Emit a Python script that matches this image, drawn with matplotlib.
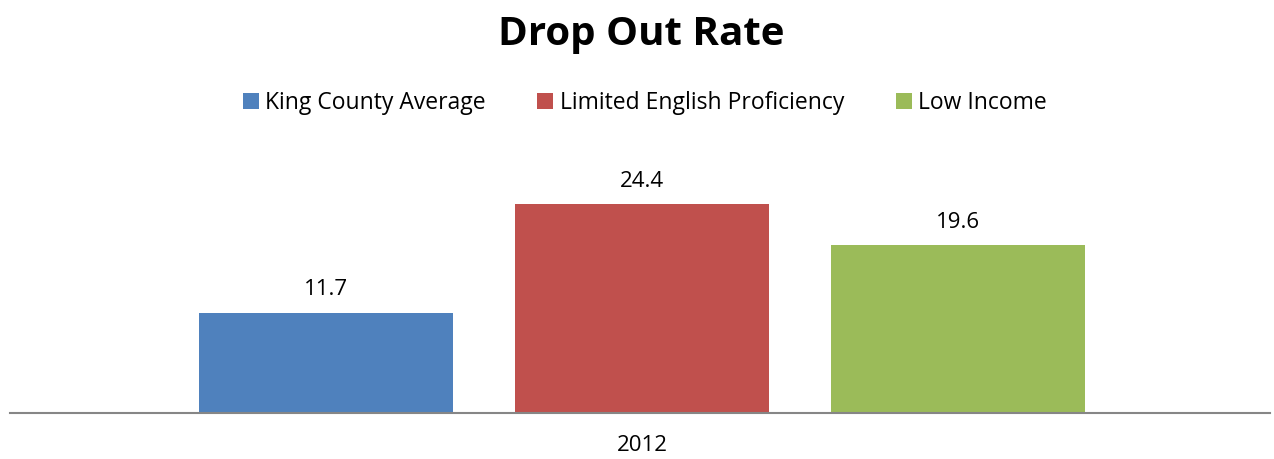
import matplotlib.pyplot as plt
import numpy as np

plt.rcParams["font.family"] = ["Open Sans", "DejaVu Sans"]

series = ["King County Average", "Limited English Proficiency", "Low Income"]
values = [11.7, 24.4, 19.6]
colors = ["#4F81BD", "#C0504D", "#9BBB59"]
year = "2012"

fig = plt.figure(figsize=(12.74, 4.59), dpi=100)
ax = fig.add_axes([10 / 1274, 46 / 459, 1260 / 1274, 239.4 / 459])

x = np.array([-1, 0, 1]) * 1.0
width = 254 / 316
for xi, v, c, name in zip(x, values, colors, series):
    ax.bar(xi, v, width=width, color=c, label=name)
    ax.text(xi, v + 1.5, f"{v}", ha="center", va="bottom", fontsize=16, color="black")

ax.set_xlim(-632 / 316, 628 / 316)
ax.set_ylim(0, 28)
ax.set_yticks([])
ax.set_xticks([0])
ax.set_xticklabels([year], fontsize=16)
ax.tick_params(axis="x", length=0, pad=16)
for s in ["top", "right", "left"]:
    ax.spines[s].set_visible(False)
ax.spines["bottom"].set_color("#868686")
ax.spines["bottom"].set_linewidth(1.5)

fig.text(0.503, 0.925, "Drop Out Rate", ha="center", va="center", fontsize=29, fontweight="bold")

handles, labels = ax.get_legend_handles_labels()
fig.legend(handles, labels, loc="center", bbox_to_anchor=(0.506, 0.775), ncol=3, frameon=False,
           fontsize=16.5, handlelength=0.7, handleheight=0.7, handletextpad=0.28, columnspacing=2.25)

fig.savefig("out.png", dpi=100)
